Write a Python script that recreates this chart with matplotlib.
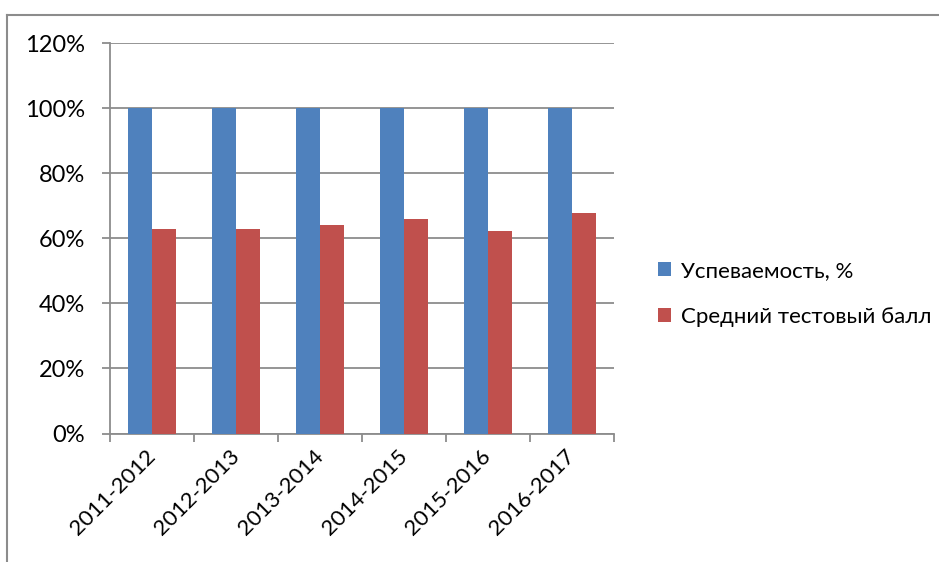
import numpy as np
import matplotlib
matplotlib.use("Agg")
import matplotlib.pyplot as plt
from matplotlib.lines import Line2D
from matplotlib.ticker import FuncFormatter, MultipleLocator

plt.rcParams['font.family'] = ['Lato', 'DejaVu Sans']

years = ['2011-2012', '2012-2013', '2013-2014', '2014-2015', '2015-2016', '2016-2017']
uspev = [100, 100, 100, 100, 100, 100]
ball = [62.8, 62.8, 64.1, 65.9, 62.2, 67.7]
names = ['Успеваемость, %', 'Средний тестовый балл']

blue = '#4F81BD'
red = '#C0504D'
grid_c = '#8C8C8C'

fig = plt.figure(figsize=(9.39, 5.62), dpi=100)
ax = fig.add_axes([110/939, 1-433.5/562, 504/939, 390.5/562])

x = np.arange(len(years))
w = 1/3.5
ax.bar(x - w/2, uspev, w, color=blue, label=names[0], zorder=3)
ax.bar(x + w/2, ball, w, color=red, label=names[1], zorder=3)

ax.set_xlim(-0.5, len(years) - 0.5)
ax.set_ylim(0, 120)
ax.yaxis.set_major_locator(MultipleLocator(20))
ax.yaxis.set_major_formatter(FuncFormatter(lambda v, p: f'{v:.0f}%'))
ax.grid(axis='y', color=grid_c, linewidth=1.3, zorder=0)

# category ticks on boundaries, labels at centers
ax.set_xticks(np.arange(len(years) + 1) - 0.5)
ax.set_xticklabels([])
ax.set_xticks(x, minor=True)
ax.set_xticklabels(years, minor=True, rotation=45, ha='right', va='center',
                   rotation_mode='anchor', fontsize=16)
ax.tick_params(axis='x', which='minor', length=0, pad=14)
ax.tick_params(axis='x', which='major', length=6, color=grid_c, width=1.3)
ax.tick_params(axis='y', length=6, color=grid_c, width=1.3, labelsize=17, pad=12)

for s in ['top', 'right']:
    ax.spines[s].set_visible(False)
for s in ['left', 'bottom']:
    ax.spines[s].set_color(grid_c)
    ax.spines[s].set_linewidth(1.3)

leg = fig.legend(loc='center left', bbox_to_anchor=(638/939, 1-294/562),
                 frameon=False, fontsize=16, handlelength=0.6, handleheight=0.6,
                 handletextpad=0.45, labelspacing=1.15)

# chart border (top and left edges visible)
fig.add_artist(Line2D([7/939, 1], [1-15/562, 1-15/562], color='#8C8C8C', lw=1.5))
fig.add_artist(Line2D([7/939, 7/939], [0, 1-15/562], color='#8C8C8C', lw=1.5))

fig.savefig('out.png', dpi=100)
